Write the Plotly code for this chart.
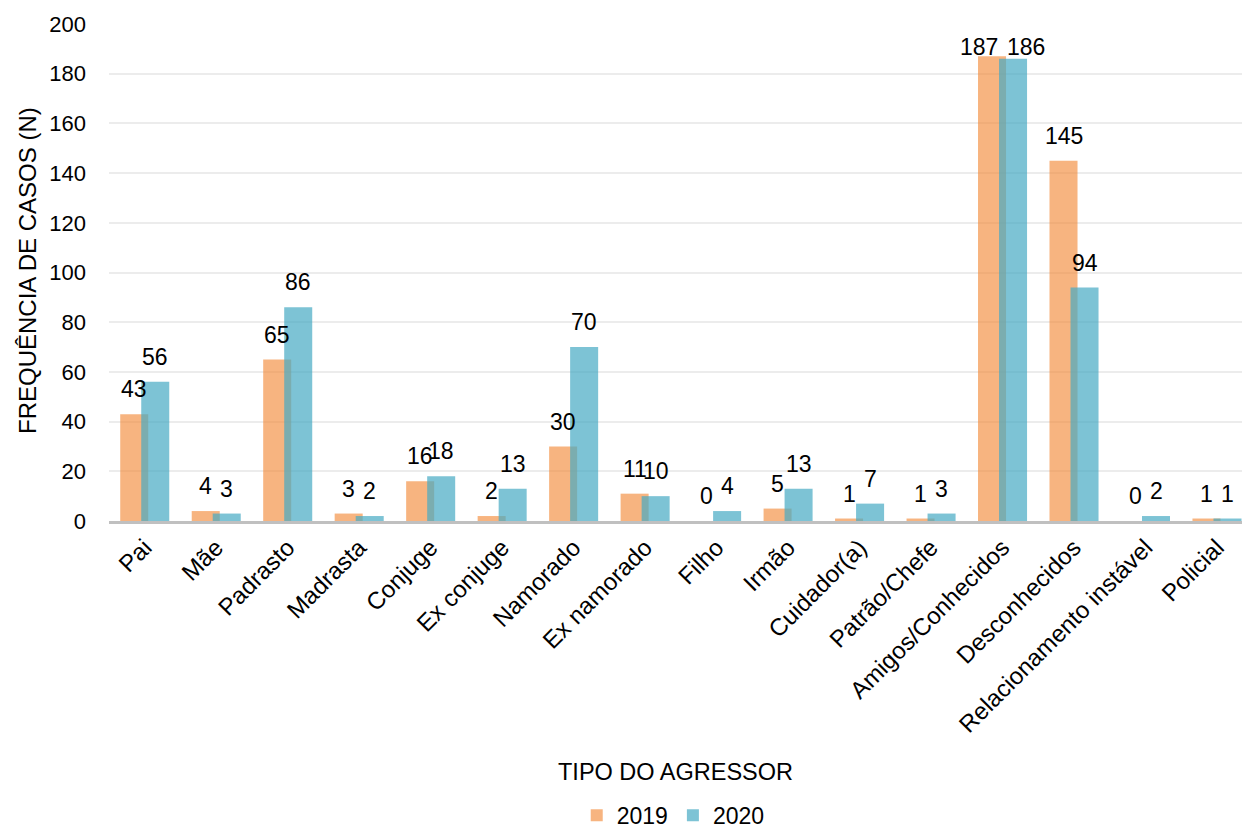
import plotly.graph_objects as go

categories = ["Pai", "Mãe", "Padrasto", "Madrasta", "Conjuge", "Ex conjuge", "Namorado",
              "Ex namorado", "Filho", "Irmão", "Cuidador(a)", "Patrão/Chefe",
              "Amigos/Conhecidos", "Desconhecidos", "Relacionamento instável", "Policial"]
values_2019 = [43, 4, 65, 3, 16, 2, 30, 11, 0, 5, 1, 1, 187, 145, 0, 1]
values_2020 = [56, 3, 86, 2, 18, 13, 70, 10, 4, 13, 7, 3, 186, 94, 2, 1]
series_names = ["2019", "2020"]

FONT = "Liberation Sans, Arial, sans-serif"
BAR_W = 0.392
OFFSETS = [-0.343, -0.049]
COLORS = ["rgba(242,140,60,0.65)", "rgba(70,170,195,0.7)"]
XSHIFTS = [-10.5, 10.5]
LABEL_PAD = 10      # data units above bar
LABEL_CAP = 190.7   # labels cannot go above this

fig = go.Figure()
annotations = []
all_vals = [values_2019, values_2020]
for si, (name, vals, off, col, xs) in enumerate(zip(series_names, all_vals, OFFSETS, COLORS, XSHIFTS)):
    fig.add_trace(go.Bar(
        x=categories, y=vals, name=name, width=BAR_W, offset=off,
        marker=dict(color=col, line=dict(width=0)),
    ))
    for ci, (c, v) in enumerate(zip(categories, vals)):
        # when both labels of a group are pushed to the top, spread them apart
        both_capped = all(s[ci] + LABEL_PAD > LABEL_CAP for s in all_vals)
        shift = xs * (2.2 if both_capped else 1.0)
        annotations.append(dict(
            x=c, y=min(v + LABEL_PAD, LABEL_CAP), xref="x", yref="y", text=str(v),
            showarrow=False, xshift=shift, yanchor="middle", xanchor="center",
            font=dict(family=FONT, size=23, color="#000000"),
        ))

annotations.append(dict(
    x=0.5, y=-0.505, xref="paper", yref="paper", text="TIPO DO AGRESSOR",
    showarrow=False, xanchor="center", yanchor="middle",
    font=dict(family=FONT, size=23.5, color="#000000"),
))
annotations.append(dict(
    x=-0.0724, y=0.505, xref="paper", yref="paper", text="FREQUÊNCIA DE CASOS (N)",
    showarrow=False, xanchor="center", yanchor="middle", textangle=-90,
    font=dict(family=FONT, size=24, color="#000000"),
))

fig.update_layout(
    width=1242, height=830,
    margin=dict(l=109, r=0, t=24, b=309, autoexpand=False),
    barmode="overlay",
    plot_bgcolor="white", paper_bgcolor="white",
    font=dict(family=FONT, size=22, color="#000000"),
    showlegend=True,
    legend=dict(orientation="h", x=0.498, y=-0.592, xanchor="center", yanchor="middle",
                font=dict(family=FONT, size=23, color="#000000"), itemwidth=30,
                tracegroupgap=0, traceorder="normal"),
    annotations=annotations,
)
fig.update_xaxes(
    type="category", range=[-0.5, 15.35], tickangle=-45,
    showgrid=False, showline=True, linecolor="#c0c0c0", linewidth=3,
    ticks="", tickfont=dict(family=FONT, size=24, color="#000000"),
    automargin=False, ticklabelstandoff=0,
)
fig.update_yaxes(
    range=[0, 200], dtick=20, showgrid=True, gridcolor="#ececec", gridwidth=2,
    zeroline=False, showline=False, ticks="",
    tickfont=dict(family=FONT, size=22, color="#000000"),
    automargin=False, ticklabelstandoff=22,
)

fig.write_html("out.html")
